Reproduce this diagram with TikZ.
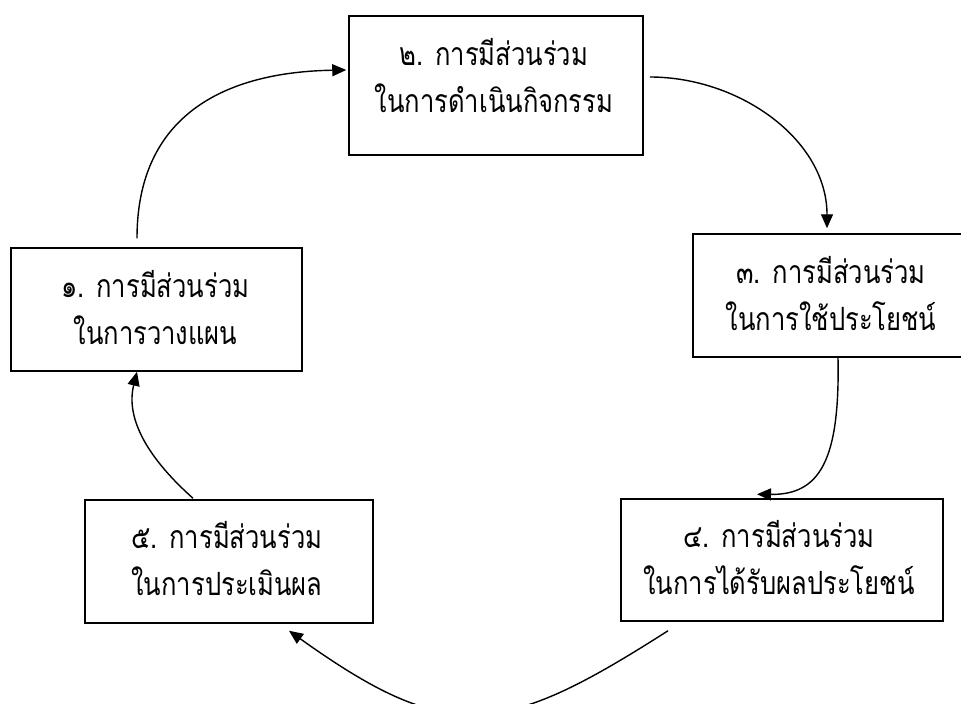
\documentclass[tikz,border=0pt]{standalone}
\usepackage{fontspec}
\newfontfamily\thaifont[Script=Thai, FakeStretch=0.8]{Loma}
\usetikzlibrary{arrows.meta}
\tikzset{
  box/.style={draw=black, line width=1.5pt, rectangle, inner sep=0pt},
  lbl/.style={font=\thaifont\fontsize{32}{36}\selectfont, inner sep=0pt, anchor=base},
  conn/.style={draw=black, line width=1.4pt, -{Triangle[length=14pt,width=12pt]}}
}
\begin{document}
\begin{tikzpicture}[x=1pt,y=-1pt]
\clip (0,0) rectangle (961,704);
\fill[white] (0,0) rectangle (961,704);
% boxes
\node[box, minimum width=291pt, minimum height=123pt] (b1) at (156.5,309.5) {};
\node[box, minimum width=294pt, minimum height=139pt] (b2) at (496,85.5) {};
\node[box, minimum width=275pt, minimum height=123pt] (b3) at (830.5,295.5) {};
\node[box, minimum width=322pt, minimum height=122pt] (b4) at (782,560) {};
\node[box, minimum width=288pt, minimum height=123pt] (b5) at (229,561.5) {};
% labels
\node[lbl] (t1a) at ([shift={(-1,50)}]b1.north) {๑. การมีส่วนร่วม};
\node[lbl] (t1b) at ([shift={(-1,97)}]b1.north) {ในการวางแผน};
\node[lbl] (t2a) at ([shift={(-2,50)}]b2.north) {๒. การมีส่วนร่วม};
\node[lbl] (t2b) at ([shift={(-2,97)}]b2.north) {ในการดำเนินกิจกรรม};
\node[lbl] (t3a) at ([shift={(0.5,50)}]b3.north) {๓. การมีส่วนร่วม};
\node[lbl] (t3b) at ([shift={(0.5,97)}]b3.north) {ในการใช้ประโยชน์};
\node[lbl] (t4a) at ([shift={(-3,49)}]b4.north) {๔. การมีส่วนร่วม};
\node[lbl] (t4b) at ([shift={(-3,96)}]b4.north) {ในการได้รับผลประโยชน์};
\node[lbl] (t5a) at ([shift={(-2,49)}]b5.north) {๕. การมีส่วนร่วม};
\node[lbl] (t5b) at ([shift={(-2,96)}]b5.north) {ในการประเมินผล};
% connectors
\draw[conn] ([shift={(-19.5,-9)}]b1.north) .. controls (137,115) and (225,72) .. ([shift={(-2,-15.5)}]b2.west);
\draw[conn] ([shift={(6,-8.5)}]b2.east) .. controls (740,77) and (827,140) .. ([shift={(-3.5,-5)}]b3.north);
\draw[conn] ([shift={(7.5,0)}]b3.south) .. controls (840,460) and (820,495) .. ([shift={(-25,-4)}]b4.north);
\draw[conn] ([shift={(-114,9)}]b4.south) .. controls (502,737) and (449,745) .. ([shift={(60,7)}]b5.south);
\draw[conn] ([shift={(-36,-1)}]b5.north) .. controls (150,460) and (125,420) .. ([shift={(-19.5,0)}]b1.south);
\end{tikzpicture}
\end{document}
